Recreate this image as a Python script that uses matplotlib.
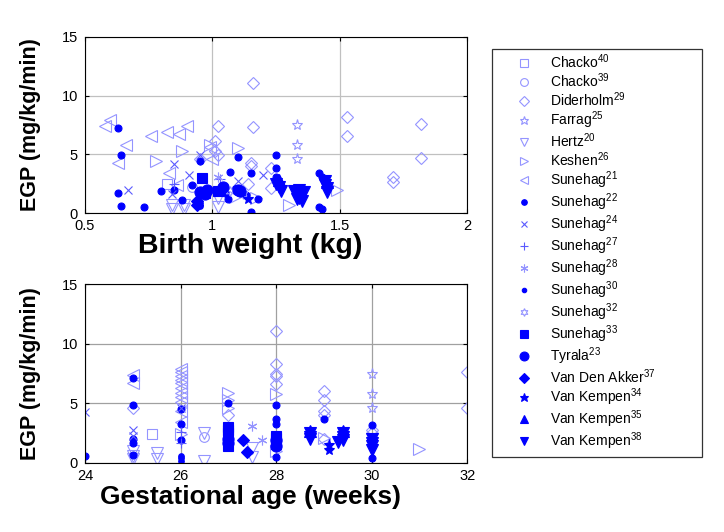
import matplotlib
matplotlib.use("Agg")
import matplotlib.pyplot as plt
from matplotlib.lines import Line2D
from matplotlib.patches import Rectangle

plt.rcParams['font.family'] = ['Liberation Sans', 'DejaVu Sans']
plt.rcParams['mathtext.fontset'] = 'custom'
plt.rcParams['mathtext.rm'] = 'Liberation Sans'
plt.rcParams['mathtext.it'] = 'Liberation Sans'

# ---- data: birth weight (kg) vs EGP ----
chacko40_bw, chacko40_bw_egp = [0.82], [2.5]
chacko39_bw, chacko39_bw_egp = [0.92], [2.2]
diderholm_bw = [1.16, 1.16, 1.02, 1.01, 1.01, 1.02, 1.15, 1.15, 1.14, 1.23, 1.23, 0.95, 1.53, 1.53, 1.82, 1.82, 1.71, 1.71]
diderholm_bw_egp = [11.1, 7.3, 7.4, 6.1, 5.3, 4.9, 4.3, 4.0, 2.5, 3.8, 2.1, 4.6, 8.2, 6.6, 7.6, 4.7, 3.1, 2.6]
farrag_bw, farrag_bw_egp = [1.33, 1.33, 1.33], [7.5, 5.8, 4.6]
hertz_bw = [0.84, 0.84, 0.89, 0.89, 1.02, 1.02]
hertz_bw_egp = [0.3, 0.7, 0.3, 0.7, 0.5, 1.3]
keshen_bw = [0.78, 0.88, 0.99, 1.10, 1.30, 1.49, 1.17, 1.09]
keshen_bw_egp = [4.4, 5.3, 5.8, 5.5, 0.7, 2.0, 1.3, 1.4]
sunehag21_bw = [0.58, 0.60, 0.66, 0.63, 0.76, 0.82, 0.87, 0.90, 0.83, 1.0, 0.99, 0.86]
sunehag21_bw_egp = [7.4, 7.9, 5.8, 4.3, 6.6, 6.9, 6.7, 7.4, 3.4, 4.6, 5.6, 2.4]
sunehag22_bw = [0.63, 0.64, 0.63, 0.64, 0.73, 0.80, 0.85, 0.88, 0.92, 0.95, 1.10, 1.07, 1.15,
                1.15, 1.18, 1.25, 1.25, 1.25, 1.42, 1.43, 1.42, 1.43, 1.06, 1.05, 1.13]
sunehag22_bw_egp = [7.2, 4.9, 1.7, 0.6, 0.5, 1.9, 2.0, 1.1, 2.4, 4.4, 4.8, 3.5, 3.4,
                    0.1, 1.2, 4.9, 3.8, 3.1, 3.4, 3.1, 0.5, 0.3, 1.2, 1.7, 1.5]
sunehag24_bw = [0.67, 0.85, 0.91, 0.95, 1.20, 1.10, 0.84]
sunehag24_bw_egp = [2.0, 4.2, 3.2, 4.9, 3.2, 2.7, 1.6]
sunehag27_bw, sunehag27_bw_egp = [0.85, 1.03], [2.5, 2.9]
sunehag28_bw, sunehag28_bw_egp = [1.02], [3.1]
sunehag30_bw, sunehag30_bw_egp = [0.95, 0.95, 1.09], [0.85, 0.6, 2.1]
sunehag32_bw, sunehag32_bw_egp = [1.07, 1.12], [1.9, 1.6]
sunehag33_bw, sunehag33_bw_egp = [0.96, 1.02, 0.97], [3.0, 1.9, 1.7]
tyrala_bw = [0.95, 0.97, 0.98, 1.04, 1.10, 1.11]
tyrala_bw_egp = [1.8, 1.6, 2.0, 2.2, 2.0, 1.9]
vandenakker_bw, vandenakker_bw_egp = [0.94, 0.94], [1.0, 0.7]
vankempen34_bw, vankempen34_bw_egp = [1.14], [1.2]
vankempen35_bw, vankempen35_bw_egp = [1.26, 1.45], [2.8, 2.6]
vankempen38_bw = [1.25, 1.26, 1.27, 1.32, 1.33, 1.34, 1.35, 1.36, 1.33, 1.34, 1.44, 1.45, 1.45, 1.44]
vankempen38_bw_egp = [2.5, 2.2, 1.9, 1.9, 1.6, 1.3, 1.0, 1.8, 1.2, 2.0, 2.4, 2.1, 1.8, 2.7]

# ---- data: gestational age (weeks) vs EGP ----
chacko40_ga, chacko40_ga_egp = [25.4], [2.45]
chacko39_ga, chacko39_ga_egp = [26.5], [2.2]
diderholm_ga = [25, 27, 28, 28, 28, 28, 28, 29, 29, 29, 29, 29, 30, 30, 32, 32]
diderholm_ga_egp = [4.6, 4.0, 11.1, 8.3, 7.5, 7.3, 6.6, 6.0, 5.3, 4.4, 4.0, 2.0, 2.8, 2.5, 7.6, 4.6]
farrag_ga, farrag_ga_egp = [30, 30, 30], [7.5, 5.8, 4.6]
hertz_ga = [25, 25, 25, 25.5, 25.5, 26.5, 26.5, 27.5, 27.5]
hertz_ga_egp = [1.0, 0.6, 0.3, 0.8, 0.3, 2.5, 0.2, 1.3, 0.5]
keshen_ga = [26, 27, 27, 27, 28, 28, 29, 31]
keshen_ga_egp = [2.4, 5.9, 5.3, 4.6, 5.8, 1.0, 2.1, 1.2]
sunehag21_ga = [25, 25, 26, 26, 26, 26, 26, 26, 26, 26, 26, 26, 26]
sunehag21_ga_egp = [7.4, 6.7, 7.9, 7.6, 7.3, 7.0, 6.7, 6.3, 5.9, 5.5, 5.1, 4.4, 3.4]
sunehag22_ga = [24, 25, 25, 25, 25, 25, 26, 26, 26, 27, 28, 28, 28, 28, 29, 30, 30]
sunehag22_ga_egp = [0.6, 7.1, 4.9, 2.0, 1.7, 0.7, 4.5, 3.3, 1.9, 5.0, 4.9, 3.7, 3.3, 0.5, 3.7, 3.2, 0.4]
sunehag24_ga, sunehag24_ga_egp = [24, 25, 25, 26], [4.3, 2.8, 2.3, 4.6]
sunehag27_ga, sunehag27_ga_egp = [26, 26], [1.7, 2.6]
sunehag28_ga, sunehag28_ga_egp = [27.5, 27.7], [3.1, 1.9]
sunehag30_ga, sunehag30_ga_egp = [26, 26, 26], [0.6, 0.4, 0.2]
sunehag32_ga, sunehag32_ga_egp = [27, 28], [2.1, 1.6]
sunehag33_ga = [27, 27, 27, 27, 28, 28, 28, 28]
sunehag33_ga_egp = [3.0, 2.8, 2.5, 1.4, 2.3, 2.1, 1.8, 1.6]
tyrala_ga, tyrala_ga_egp = [27, 27, 28, 28], [2.0, 1.7, 1.9, 1.4]
vandenakker_ga, vandenakker_ga_egp = [27.3, 27.4], [1.9, 0.9]
vankempen34_ga, vankempen34_ga_egp = [29.1, 29.1], [1.5, 1.1]
vankempen35_ga, vankempen35_ga_egp = [28.7, 29.4], [2.7, 2.7]
vankempen38_ga = [28.7, 28.7, 28.7, 29.3, 29.4, 29.4, 29.4, 30, 30, 30, 30]
vankempen38_ga_egp = [2.5, 2.2, 2.0, 1.8, 2.5, 2.2, 1.9, 2.0, 1.7, 1.4, 1.1]

labels = ['Chacko$^{40}$', 'Chacko$^{39}$', 'Diderholm$^{29}$', 'Farrag$^{25}$', 'Hertz$^{20}$',
          'Keshen$^{26}$', 'Sunehag$^{21}$', 'Sunehag$^{22}$', 'Sunehag$^{24}$', 'Sunehag$^{27}$',
          'Sunehag$^{28}$', 'Sunehag$^{30}$', 'Sunehag$^{32}$', 'Sunehag$^{33}$', 'Tyrala$^{23}$',
          'Van Den Akker$^{37}$', 'Van Kempen$^{34}$', 'Van Kempen$^{35}$', 'Van Kempen$^{38}$']

bw_series = [(chacko40_bw, chacko40_bw_egp), (chacko39_bw, chacko39_bw_egp), (diderholm_bw, diderholm_bw_egp),
             (farrag_bw, farrag_bw_egp), (hertz_bw, hertz_bw_egp), (keshen_bw, keshen_bw_egp),
             (sunehag21_bw, sunehag21_bw_egp), (sunehag22_bw, sunehag22_bw_egp), (sunehag24_bw, sunehag24_bw_egp),
             (sunehag27_bw, sunehag27_bw_egp), (sunehag28_bw, sunehag28_bw_egp), (sunehag30_bw, sunehag30_bw_egp),
             (sunehag32_bw, sunehag32_bw_egp), (sunehag33_bw, sunehag33_bw_egp), (tyrala_bw, tyrala_bw_egp),
             (vandenakker_bw, vandenakker_bw_egp), (vankempen34_bw, vankempen34_bw_egp),
             (vankempen35_bw, vankempen35_bw_egp), (vankempen38_bw, vankempen38_bw_egp)]
ga_series = [(chacko40_ga, chacko40_ga_egp), (chacko39_ga, chacko39_ga_egp), (diderholm_ga, diderholm_ga_egp),
             (farrag_ga, farrag_ga_egp), (hertz_ga, hertz_ga_egp), (keshen_ga, keshen_ga_egp),
             (sunehag21_ga, sunehag21_ga_egp), (sunehag22_ga, sunehag22_ga_egp), (sunehag24_ga, sunehag24_ga_egp),
             (sunehag27_ga, sunehag27_ga_egp), (sunehag28_ga, sunehag28_ga_egp), (sunehag30_ga, sunehag30_ga_egp),
             (sunehag32_ga, sunehag32_ga_egp), (sunehag33_ga, sunehag33_ga_egp), (tyrala_ga, tyrala_ga_egp),
             (vandenakker_ga, vandenakker_ga_egp), (vankempen34_ga, vankempen34_ga_egp),
             (vankempen35_ga, vankempen35_ga_egp), (vankempen38_ga, vankempen38_ga_egp)]

light = '#9494ff'
mid = '#5a5aff'
blue = '#0000ff'
# marker, size, colour, filled
styles = [('s', 7, light, False), ('o', 7, light, False), ('D', 6, light, False), ('*', 8, light, False),
          ('v', 8, light, False), ('>', 8, light, False), ('<', 8, light, False), ('o', 5, blue, True),
          ('x', 6, mid, False), ('+', 7, mid, False), ((6, 2, 0), 7, light, False), ('o', 4, blue, True),
          ((6, 1, 0), 7, light, False), ('s', 7, blue, True), ('o', 8, blue, True), ('D', 6, blue, True),
          ('*', 8, blue, True), ('^', 8, blue, True), ('v', 8, blue, True)]


def plot_panel(ax, series, grid_color):
    for (xs, ys), (m, ms, c, filled) in zip(series, styles):
        ax.plot(xs, ys, linestyle='none', marker=m, markersize=ms, markeredgecolor=c,
                markerfacecolor=c if filled else 'none', markeredgewidth=0.8)
    ax.set_ylim(0, 15)
    ax.set_yticks([0, 5, 10, 15])
    ax.grid(True, color=grid_color, linewidth=0.9)
    ax.set_axisbelow(True)
    ax.tick_params(direction='in', length=3, width=0.8, top=True, right=True, labelsize=10.5)
    ax.tick_params(axis='x', pad=4)
    ax.tick_params(axis='y', pad=5)
    for s in ax.spines.values():
        s.set_linewidth(0.8)
    ax.set_ylabel('EGP (mg/kg/min)', fontsize=15.5, fontweight='bold', labelpad=15)


fig = plt.figure(figsize=(7.24, 5.32), dpi=100)
ax1 = fig.add_axes([0.1174, 0.5996, 0.528, 0.331])
ax2 = fig.add_axes([0.1174, 0.1297, 0.528, 0.336])

plot_panel(ax1, bw_series, '#c0c0c0')
ax1.set_xlim(0.5, 2)
ax1.set_xticks([0.5, 1, 1.5, 2])
ax1.set_xticklabels(['0.5', '1', '1.5', '2'])
ax1.set_xlabel('Birth weight (kg)', fontsize=20.5, fontweight='bold')
ax1.xaxis.set_label_coords(0.432, -0.19)
ax1.xaxis.label.set_va('center')

plot_panel(ax2, ga_series, '#a0a0a0')
ax2.set_xlim(24, 32)
ax2.set_xticks([24, 26, 28, 30, 32])
ax2.set_xlabel('Gestational age (weeks)', fontsize=19, fontweight='bold')
ax2.xaxis.set_label_coords(0.432, -0.19)
ax2.xaxis.label.set_va('center')

# legend with its own fixed-size box
fig.add_artist(Rectangle((0.680, 0.141), 0.290, 0.767, transform=fig.transFigure,
                         fill=False, edgecolor='#333333', linewidth=0.9))
handles = []
for m, ms, c, filled in styles:
    handles.append(Line2D([], [], linestyle='none', marker=m, markersize=ms * 0.8, markeredgecolor=c,
                          markerfacecolor=c if filled else 'none', markeredgewidth=0.8))
fig.legend(handles, labels, loc='upper left', bbox_to_anchor=(0.697, 0.912), frameon=False,
           fontsize=10, labelspacing=0.03, handletextpad=0.9, borderaxespad=0)

fig.savefig('out.png', dpi=100)
